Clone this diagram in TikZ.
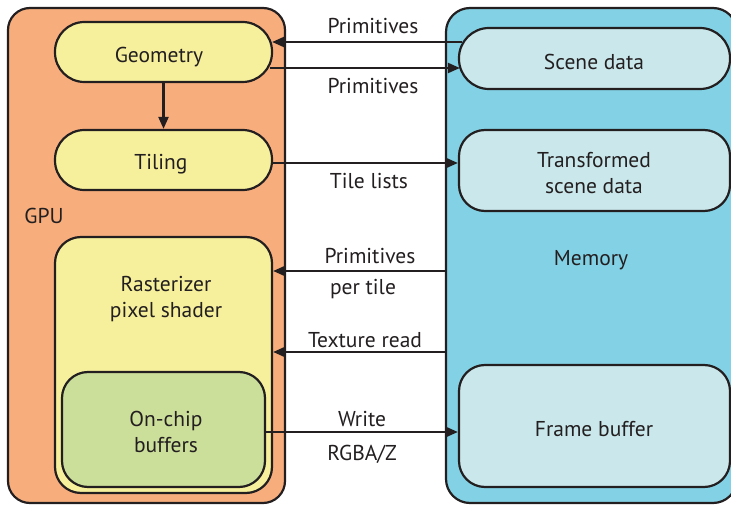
\documentclass[tikz,border=0pt]{standalone}
\usepackage{fontspec}
\setmainfont{PT Sans}
\usetikzlibrary{arrows.meta}
\definecolor{gpuC}{HTML}{F7AE7C}
\definecolor{yelC}{HTML}{F6F09C}
\definecolor{grnC}{HTML}{CCDF9A}
\definecolor{memC}{HTML}{83D1E5}
\definecolor{lbC}{HTML}{CAE8EB}
\definecolor{inkC}{HTML}{231F20}
\tikzset{
  box/.style={draw=inkC, line width=2.2pt, rectangle, inner sep=0pt},
  lbl/.style={inner sep=0pt, align=center, font=\fontsize{21.5}{25.5}\selectfont, text=inkC},
  arr/.style={draw=inkC, line width=2.2pt, -{Triangle[length=12pt,width=10pt]}},
}
\begin{document}
\begin{tikzpicture}[x=1pt,y=-1pt]
\useasboundingbox (0,0) rectangle (731,508);
% containers
\node[box, fill=gpuC, minimum width=277pt, minimum height=495pt, rounded corners=22pt] (gpu) at (146.5,255.5) {};
\node[box, fill=memC, minimum width=291pt, minimum height=495pt, rounded corners=24pt] (mem) at (591.5,255.5) {};
\node[lbl] (gpulbl) at (44,216) {GPU};
\node[lbl] (memlbl) at (591,260.5) {Memory};
% GPU parts
\node[box, fill=yelC, minimum width=217pt, minimum height=60pt, rounded corners=29.5pt] (geom) at (163.5,52) {};
\node[lbl] (geomt) at (159,57) {Geometry};
\node[box, fill=yelC, minimum width=217pt, minimum height=60pt, rounded corners=29.5pt] (tile) at (163.5,160) {};
\node[lbl] (tilet) at (161,164) {Tiling};
\node[box, fill=yelC, minimum width=217pt, minimum height=256pt, rounded corners=26pt] (rast) at (163.5,365) {};
\node[lbl] (rastlbl) at (166,299) {Rasterizer\\pixel shader};
\node[box, fill=grnC, minimum width=203pt, minimum height=115pt, rounded corners=26pt] (chip) at (163.5,429.5) {};
\node[lbl] (chipt) at (166,432) {On-chip\\buffers};
% memory parts
\node[box, fill=lbC, minimum width=271pt, minimum height=61pt, rounded corners=30pt] (scene) at (594.5,58.5) {};
\node[lbl] (scenet) at (594,62) {Scene data};
\node[box, fill=lbC, minimum width=271pt, minimum height=81pt, rounded corners=26pt] (tscene) at (594.5,170.5) {};
\node[lbl] (tscenet) at (594,173) {Transformed\\scene data};
\node[box, fill=lbC, minimum width=271pt, minimum height=122pt, rounded corners=26pt] (fb) at (594.5,426) {};
\node[lbl] (fbt) at (594,429.5) {Frame buffer};
% connectors
\draw[arr] ([xshift=4pt]scene.west |- 0,42) -- ([xshift=-1pt]geom.east |- 0,42);
\draw[arr] ([xshift=-3pt]geom.east |- 0,68) -- ([xshift=2pt]scene.west |- 0,68);
\draw[arr] (tile.east |- 0,163) -- (tscene.west |- 0,163);
\draw[arr] (mem.west |- 0,271) -- (rast.east |- 0,271);
\draw[arr] (mem.west |- 0,352) -- (rast.east |- 0,352);
\draw[arr] (chip.east |- 0,432) -- (fb.west |- 0,432);
\draw[arr] (geom.south) -- (tile.north);
% labels
\node[lbl] (l1) at (373,26.5) {Primitives};
\node[lbl] (l2) at (373,86.5) {Primitives};
\node[lbl] (l3) at (369,181.5) {Tile lists};
\node[lbl] (l4) at (370,256.5) {Primitives};
\node[lbl] (l5) at (363,289) {per tile};
\node[lbl] (l6) at (365,340.5) {Texture read};
\node[lbl] (l7) at (362,419.5) {Write};
\node[lbl] (l8) at (362,454) {RGBA/Z};
\end{tikzpicture}
\end{document}
